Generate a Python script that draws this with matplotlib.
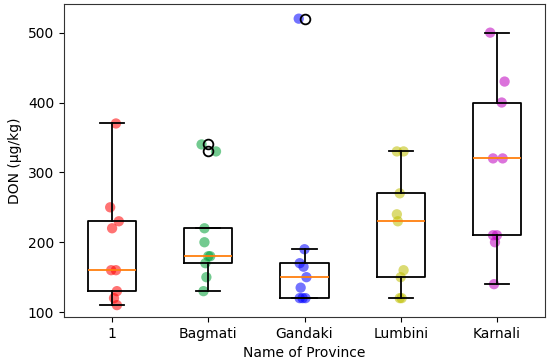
import matplotlib.pyplot as plt

provinces = ['1', 'Bagmati', 'Gandaki', 'Lumbini', 'Karnali']

don_p1 = [370, 250, 230, 220, 160, 160, 130, 120, 110]
don_bagmati = [340, 330, 220, 200, 180, 180, 170, 150, 130]
don_gandaki = [520, 190, 170, 165, 150, 135, 120, 120, 120]
don_lumbini = [330, 330, 270, 240, 230, 160, 150, 120, 120]
don_karnali = [500, 430, 400, 320, 320, 210, 210, 200, 140]

# small horizontal jitter of the dots
jit_p1 = [0.04, -0.02, 0.07, 0.0, -0.01, 0.04, 0.05, 0.02, 0.05]
jit_bagmati = [-0.07, 0.08, -0.04, -0.04, 0.0, 0.02, -0.03, -0.02, -0.05]
jit_gandaki = [-0.06, 0.0, -0.05, -0.01, 0.02, -0.04, -0.05, -0.02, 0.01]
jit_lumbini = [-0.04, 0.03, -0.01, -0.04, -0.03, 0.03, 0.0, -0.01, 0.01]
jit_karnali = [-0.07, 0.08, 0.05, -0.04, 0.06, -0.04, 0.0, -0.02, -0.03]

data = [don_p1, don_bagmati, don_gandaki, don_lumbini, don_karnali]
jitter = [jit_p1, jit_bagmati, jit_gandaki, jit_lumbini, jit_karnali]
colors = ['red', '#00a035', 'blue', '#bfbf00', 'm']

fig = plt.figure(figsize=(5.5, 3.64), dpi=100)
ax = fig.add_axes([64 / 550, 1 - 317 / 364, 481 / 550, 313 / 364])

lw = 1.3
ax.boxplot(data, widths=0.5,
           boxprops=dict(linewidth=lw),
           whiskerprops=dict(linewidth=lw),
           capprops=dict(linewidth=lw),
           medianprops=dict(linewidth=lw, color='C1'),
           flierprops=dict(markersize=7, markeredgewidth=1.3))

for i, (vals, jit) in enumerate(zip(data, jitter)):
    xs = [i + 1 + j for j in jit]
    ax.scatter(xs, vals, color=colors[i], alpha=0.55, s=55, edgecolors='none')

ax.set_xticks(range(1, len(provinces) + 1))
ax.set_xticklabels(provinces)
ax.set_xlim(0.5, 5.5)
ax.set_ylim(93, 541)
ax.set_yticks([100, 200, 300, 400, 500])
ax.set_xlabel('Name of Province')
ax.set_ylabel('DON (μg/kg)')
for s in ax.spines.values():
    s.set_color('#333333')

fig.savefig('out.png', dpi=100)
